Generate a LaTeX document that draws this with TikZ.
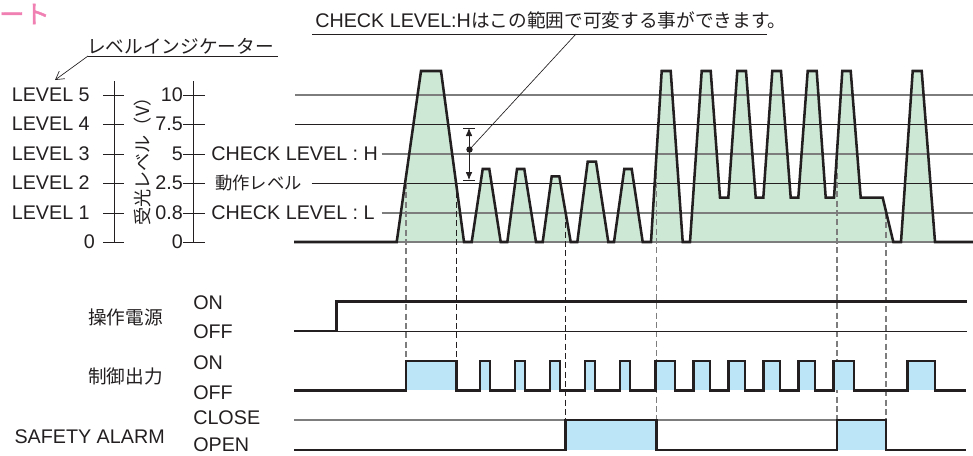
\documentclass[tikz,border=0pt]{standalone}
\usepackage{fontspec}
\setmainfont{Liberation Sans}
\newfontfamily\cjkfam{Noto Sans CJK JP}
\newcommand\cjk{\cjkfam\fontsize{14}{16}\selectfont}
\newfontfamily\cjkbold[FakeBold=1.6]{Noto Sans CJK JP}
\usetikzlibrary{arrows.meta}
\definecolor{lvgreen}{HTML}{CDE8D5}
\definecolor{outblue}{HTML}{BDE5F8}
\definecolor{pinkt}{HTML}{F07FB2}
\definecolor{ink}{HTML}{231F20}
\definecolor{midgray}{HTML}{7D7D7D}
\begin{document}
\begin{tikzpicture}[x=0.75pt,y=-0.75pt,
  font=\fontsize{14.8}{16}\selectfont,
  lbl/.style={inner sep=0pt,text=ink},
  sig/.style={draw=ink,line width=1.9pt},
  thinblack/.style={draw=ink,line width=0.7pt},
  thingray/.style={draw=midgray,line width=1pt},
  axisline/.style={draw=ink,line width=0.6pt},
  dashgray/.style={draw=midgray,line width=0.8pt,dash pattern=on 4.5pt off 2.5pt},
  dashblack/.style={draw=ink,line width=0.7pt,dash pattern=on 4.5pt off 2.5pt},
  leader/.style={draw=ink,line width=0.5pt}]
\useasboundingbox (0,0) rectangle (973,455);

% pink cut title
\node[inner sep=0pt,anchor=west,text=pinkt,font=\fontsize{19}{21}\selectfont\cjkbold] (ttl) at (-1,14) {ート};

% ---------- green fill of received level ----------
\def\wave{(294,242) -- (396.7,242) -- (421,71) -- (441,71) -- (464,242) -- (471.7,242) -- (482.7,169) -- (489.3,169) -- (500.7,242) -- (507.3,242) -- (517,169) -- (524.3,169) -- (536,242) -- (542.7,242) -- (551.7,176.3) -- (559.3,176.3) -- (570.7,242) -- (577.3,242) -- (587.7,161.7) -- (596,161.7) -- (608.3,242) -- (614,242) -- (624.3,169) -- (631.7,169) -- (642.7,242) -- (651,242) -- (661.7,71) -- (670.7,71) -- (682.7,242) -- (690,242) -- (701.7,71) -- (710.7,71) -- (720,197.7) -- (728.3,197.7) -- (737.3,71) -- (746,71) -- (755.7,197.7) -- (763.3,197.7) -- (772.3,71) -- (781,71) -- (790.7,197.7) -- (798.3,197.7) -- (807.7,71) -- (816.7,71) -- (825.7,197.7) -- (834,197.7) -- (842.3,71) -- (850.7,71) -- (860.7,197.7) -- (882.7,197.7) -- (893.3,242) -- (901,242) -- (912.7,71) -- (921.7,71) -- (935,242) -- (973,242)}
\fill[lvgreen] \wave -- cycle;

% ---------- level lines ----------
\draw[thingray] (295,95) -- (973,95);
\draw[thinblack] (295,124) -- (973,124);
\draw[thingray] (381.7,154) -- (973,154);
\draw[thinblack] (311.7,183) -- (973,183);
\draw[thingray] (381.7,213) -- (973,213);
\draw[thingray] (295,242) -- (973,242);

% ---------- axes ----------
\draw[axisline] (114,81) -- (114,242);
\draw[axisline] (193,81) -- (193,242);
\foreach \yy in {95,124,154,183,213,242}{
  \draw[axisline] (103,\yy) -- (124,\yy);
  \draw[axisline] (183,\yy) -- (205,\yy);
}
\node[lbl,anchor=east] (lv5) at (90,95) {LEVEL 5};
\node[lbl,anchor=east] (lv4) at (90,124) {LEVEL 4};
\node[lbl,anchor=east] (lv3) at (90,154) {LEVEL 3};
\node[lbl,anchor=east] (lv2) at (90,183) {LEVEL 2};
\node[lbl,anchor=east] (lv1) at (90,213) {LEVEL 1};
\node[lbl,anchor=east] (lv0) at (95,242) {0};
\node[lbl,anchor=east] (v10) at (183,95) {10};
\node[lbl,anchor=east] (v75) at (183,124) {7.5};
\node[lbl,anchor=east] (v5) at (183,154) {5};
\node[lbl,anchor=east] (v25) at (183,183) {2.5};
\node[lbl,anchor=east] (v08) at (183,213) {0.8};
\node[lbl,anchor=east] (v0) at (183,242) {0};
\node[lbl,rotate=90] (vlab) at (143,157) {\cjkfam\fontsize{13.6}{15}\selectfont 受光レベル（V）};
\node[lbl,anchor=west] (chkH) at (211,154) {CHECK LEVEL : H};
\node[lbl,anchor=west] (dosa) at (215,183) {\cjkfam\fontsize{13}{15}\selectfont 動作レベル};
\node[lbl,anchor=west] (chkL) at (211,213) {CHECK LEVEL : L};

% level indicator label
\node[lbl,anchor=west] (ind) at (87,46) {\cjk レベルインジケーター};
\coordinate (indU) at (88,56);
\coordinate (indT) at (55,80);
\draw[leader] (indU) -- (278,56);
\draw[leader,-{Straight Barb[length=6pt,width=7pt]}] (indU) -- (indT);

% ---------- dashed guides ----------
\draw[dashgray] (406,183) -- (406,361);
\draw[dashblack] (456.5,183) -- (456.5,361);
\draw[dashblack] (565.5,213) -- (565.5,420);
\draw[dashgray] (656.5,154) -- (656.5,420);
\draw[dashgray] (837,154) -- (837,420);
\draw[dashgray] (886,213) -- (886,420);

% waveform outline
\draw[sig] \wave;

% CHECK LEVEL H range arrow
\coordinate (rT) at (469,128);
\coordinate (rB) at (469,180);
\coordinate (dot) at (469.5,149.5);
\draw[ink,line width=0.6pt,{Latex[length=6pt,width=5pt]}-{Latex[length=6pt,width=5pt]}] (rT) -- (rB);
\draw[ink,line width=0.6pt] (463,128) -- (475,128) (463,180) -- (475,180);
\fill[ink] (dot) circle (3.2);

% top note
\node[lbl,anchor=west] (note) at (315,20) {CHECK LEVEL:H{\cjk はこの範囲で可変する事ができます。}};
\coordinate (noteL) at (576,34);
\draw[leader] (312,34) -- (767,34);
\draw[leader] (noteL) -- (dot);

% ---------- 操作電源 ----------
\node[lbl,anchor=east] (pw) at (163,317) {\cjk 操作電源};
\node[lbl,anchor=west] (pwon) at (193,302.7) {ON};
\node[lbl,anchor=west] (pwoff) at (193,331.7) {OFF};
\draw[thinblack] (336.7,331) -- (967,331);
\draw[sig] (294,331) -- (336.7,331) -- (336.7,301.7) -- (967,301.7);

% ---------- 制御出力 ----------
\node[lbl,anchor=east] (co) at (163,376.7) {\cjk 制御出力};
\node[lbl,anchor=west] (coon) at (193,362.7) {ON};
\node[lbl,anchor=west] (cooff) at (193,392.3) {OFF};
\def\pulses{406/456.7, 480/490, 515/525, 550/560, 585/595, 620/630, 655.7/675, 693.3/710, 728.3/745, 763.3/780, 798.3/815, 833.3/854, 907.7/935}
\foreach \a/\b in \pulses { \fill[outblue] (\a,361) rectangle (\b,390.3); }
\draw[sig] (294,390.3) \foreach \a/\b in \pulses { -- (\a,390.3) -- (\a,361) -- (\b,361) -- (\b,390.3) } -- (966,390.3);

% ---------- SAFETY ALARM ----------
\node[lbl,anchor=east] (sa) at (165,436.7) {SAFETY ALARM};
\node[lbl,anchor=west] (sacl) at (193,418) {CLOSE};
\node[lbl,anchor=west] (saop) at (193,445) {OPEN};
\fill[outblue] (565.7,420) rectangle (656.7,450);
\fill[outblue] (837,420) rectangle (886,450);
\draw[thingray] (294,420) -- (886,420);
\draw[sig] (294,450) -- (565.7,450) -- (565.7,420) -- (656.7,420) -- (656.7,450) -- (837,450) -- (837,420) -- (886,420) -- (886,450) -- (966,450);
\end{tikzpicture}
\end{document}
